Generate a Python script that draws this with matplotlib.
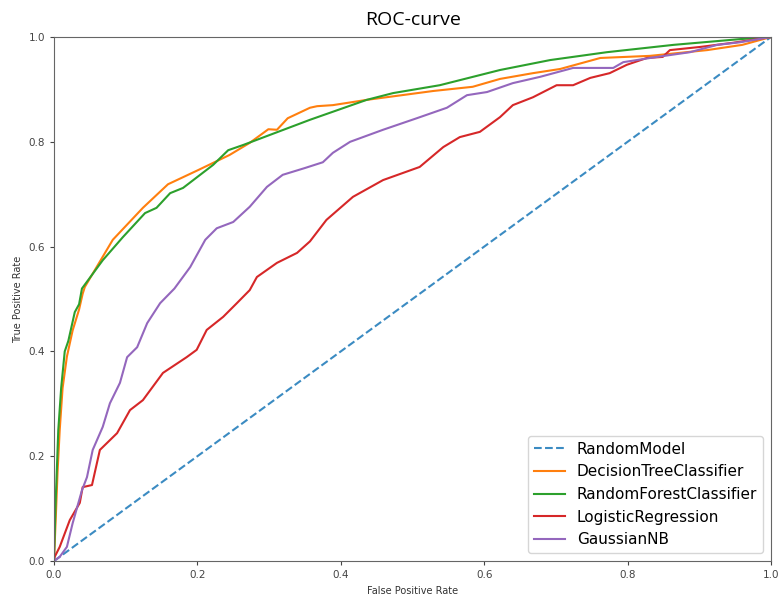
import matplotlib.pyplot as plt

# values
rand_fpr = [0.0, 1.0]
rand_tpr = [0.0, 1.0]

dt_fpr = [0.0, 0.003, 0.005, 0.008, 0.012, 0.018, 0.026, 0.035, 0.040, 0.043, 0.082, 0.124,
          0.159, 0.201, 0.245, 0.273, 0.299, 0.311, 0.326, 0.357, 0.367, 0.389, 0.436,
          0.529, 0.584, 0.622, 0.668, 0.706, 0.762, 0.831, 0.911, 0.960, 1.0]
dt_tpr = [0.0, 0.10, 0.17, 0.25, 0.33, 0.39, 0.44, 0.48, 0.51, 0.523, 0.613, 0.674,
          0.719, 0.746, 0.775, 0.798, 0.824, 0.823, 0.845, 0.865, 0.868, 0.870, 0.880,
          0.897, 0.905, 0.920, 0.931, 0.939, 0.960, 0.964, 0.975, 0.985, 1.0]

rf_fpr = [0.0, 0.002, 0.006, 0.010, 0.015, 0.020, 0.029, 0.035, 0.039, 0.068, 0.096, 0.127,
          0.143, 0.162, 0.180, 0.222, 0.243, 0.264, 0.357, 0.436, 0.473, 0.538, 0.622,
          0.692, 0.771, 0.864, 0.957, 1.0]
rf_tpr = [0.0, 0.10, 0.25, 0.33, 0.40, 0.42, 0.475, 0.49, 0.520, 0.574, 0.618, 0.664,
          0.674, 0.702, 0.712, 0.756, 0.784, 0.794, 0.842, 0.880, 0.893, 0.908, 0.937,
          0.956, 0.971, 0.985, 0.996, 1.0]

lr_fpr = [0.0, 0.001, 0.008, 0.022, 0.036, 0.040, 0.053, 0.064, 0.088, 0.106, 0.124, 0.152,
          0.185, 0.199, 0.213, 0.236, 0.255, 0.273, 0.283, 0.311, 0.339, 0.357, 0.380,
          0.417, 0.459, 0.510, 0.543, 0.566, 0.594, 0.622, 0.640, 0.668, 0.701, 0.724,
          0.748, 0.775, 0.799, 0.827, 0.849, 0.859, 0.901, 0.947, 1.0]
lr_tpr = [0.0, 0.008, 0.027, 0.078, 0.111, 0.141, 0.145, 0.212, 0.244, 0.288, 0.307, 0.359,
          0.389, 0.403, 0.441, 0.466, 0.492, 0.517, 0.542, 0.569, 0.588, 0.610, 0.651,
          0.695, 0.727, 0.752, 0.790, 0.809, 0.819, 0.847, 0.870, 0.885, 0.908, 0.908,
          0.922, 0.931, 0.947, 0.960, 0.962, 0.975, 0.981, 0.989, 1.0]

nb_fpr = [0.0, 0.008, 0.018, 0.026, 0.039, 0.046, 0.054, 0.068, 0.078, 0.092, 0.102, 0.116,
          0.130, 0.148, 0.168, 0.190, 0.211, 0.227, 0.250, 0.273, 0.297, 0.319, 0.350,
          0.375, 0.389, 0.413, 0.459, 0.506, 0.548, 0.576, 0.604, 0.640, 0.678, 0.724,
          0.780, 0.794, 0.841, 0.887, 0.925, 0.957, 1.0]
nb_tpr = [0.0, 0.008, 0.027, 0.072, 0.135, 0.160, 0.212, 0.256, 0.301, 0.340, 0.389, 0.408,
          0.454, 0.492, 0.520, 0.561, 0.613, 0.635, 0.647, 0.676, 0.714, 0.737, 0.750,
          0.761, 0.779, 0.800, 0.823, 0.845, 0.865, 0.889, 0.895, 0.912, 0.924, 0.941,
          0.941, 0.952, 0.962, 0.971, 0.985, 0.990, 1.0]

fig = plt.figure(figsize=(7.79, 5.95), dpi=100)
ax = fig.add_axes([0.0693, 0.0571, 0.9204, 0.8807])

ax.plot(rand_fpr, rand_tpr, linestyle='--', color='#3b8bc2', label='RandomModel')
ax.plot(dt_fpr, dt_tpr, color='tab:orange', label='DecisionTreeClassifier')
ax.plot(rf_fpr, rf_tpr, color='tab:green', label='RandomForestClassifier')
ax.plot(lr_fpr, lr_tpr, color='tab:red', label='LogisticRegression')
ax.plot(nb_fpr, nb_tpr, color='tab:purple', label='GaussianNB')

ax.set_xlim(0, 1)
ax.set_ylim(0, 1)
ax.set_xticks([0.0, 0.2, 0.4, 0.6, 0.8, 1.0])
ax.set_yticks([0.0, 0.2, 0.4, 0.6, 0.8, 1.0])
ax.tick_params(labelsize=7.5, colors='#444444', length=3)
for s in ax.spines.values():
    s.set_color('#666666')
ax.set_xlabel('False Positive Rate', fontsize=7, color='#333333')
ax.set_ylabel('True Positive Rate', fontsize=7, color='#333333')
fig.text(0.53, 0.966, 'ROC-curve', ha='center', va='center', fontsize=14, family='Open Sans')
ax.legend(loc='lower right', fontsize=11)

fig.savefig('out.png', dpi=100)
